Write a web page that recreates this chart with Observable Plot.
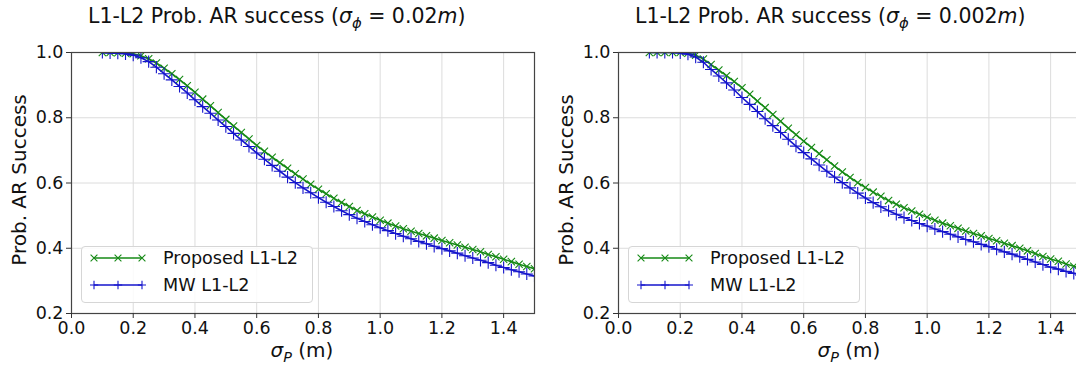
<!DOCTYPE html>
<html>
<head>
<meta charset="utf-8">
<script src="https://cdn.jsdelivr.net/npm/d3@7"></script>
<script src="https://cdn.jsdelivr.net/npm/@observablehq/plot@0.6"></script>
<style>
  html, body { margin: 0; padding: 0; background: #fff; }
  #wrap { position: relative; width: 1076px; height: 368px; overflow: hidden; background: #fff;
          font-family: "DejaVu Sans", sans-serif; color: #111; }
  .abs { position: absolute; white-space: nowrap; }
  .title { font-size: 20.5px; }
  .ylab { font-size: 20px; transform: translate(-50%, -50%) rotate(-90deg); }
  .xlab { font-size: 20px; transform: translateX(-50%); }
  sub { font-size: 72%; vertical-align: -0.35em; line-height: 0; }
  .legend { border: 1px solid #d6d6d6; border-radius: 4px; background: rgba(255,255,255,0.85);
            font-size: 17.6px; box-sizing: border-box; }
  .legend .row { position: absolute; left: 8px; display: flex; align-items: center; }
  .legend svg { margin-right: 17px; }
</style>
</head>
<body>
<div id="wrap"></div>
<script>
// ---- data ----
const sigmaP = [0.100,0.125,0.150,0.175,0.200,0.225,0.250,0.275,0.300,0.325,0.350,0.375,0.400,0.425,0.450,0.475,
  0.500,0.525,0.550,0.575,0.600,0.625,0.650,0.675,0.700,0.725,0.750,0.775,0.800,0.825,0.850,0.875,0.900,0.925,
  0.950,0.975,1.000,1.025,1.050,1.075,1.100,1.125,1.150,1.175,1.200,1.225,1.250,1.275,1.300,1.325,1.350,1.375,
  1.400,1.425,1.450,1.475,1.500];

// sigma_phi = 0.02 m
const proposed002 = [1.000,1.000,0.999,0.998,0.996,0.990,0.981,0.968,0.952,0.935,0.917,0.898,0.878,0.857,0.837,0.816,
  0.795,0.775,0.755,0.735,0.715,0.697,0.679,0.662,0.645,0.628,0.612,0.596,0.581,0.567,0.553,0.540,0.528,0.516,
  0.506,0.496,0.486,0.477,0.468,0.460,0.452,0.445,0.438,0.431,0.424,0.417,0.410,0.403,0.396,0.389,0.381,0.374,
  0.366,0.359,0.351,0.344,0.337];
const mw002 = [1.000,0.999,0.998,0.996,0.992,0.984,0.972,0.955,0.935,0.916,0.896,0.876,0.855,0.834,0.814,0.793,
  0.773,0.752,0.732,0.712,0.692,0.673,0.654,0.636,0.618,0.601,0.585,0.570,0.555,0.541,0.528,0.515,0.503,0.492,
  0.482,0.472,0.463,0.454,0.445,0.437,0.429,0.421,0.414,0.406,0.399,0.392,0.385,0.377,0.370,0.363,0.356,0.348,
  0.341,0.334,0.328,0.321,0.315];

// sigma_phi = 0.002 m
const proposed0002 = [1.000,1.000,1.000,1.000,1.000,0.998,0.992,0.980,0.963,0.946,0.929,0.911,0.892,0.872,0.851,0.831,
  0.810,0.789,0.768,0.748,0.728,0.709,0.690,0.671,0.652,0.634,0.617,0.601,0.586,0.572,0.559,0.546,0.535,0.524,
  0.514,0.504,0.495,0.486,0.477,0.469,0.461,0.453,0.445,0.438,0.430,0.423,0.415,0.408,0.400,0.392,0.384,0.375,
  0.367,0.360,0.352,0.345,0.338];
const mw0002 = [1.000,1.000,1.000,1.000,0.999,0.995,0.986,0.970,0.948,0.928,0.907,0.885,0.862,0.841,0.819,0.797,
  0.776,0.755,0.734,0.713,0.693,0.674,0.655,0.636,0.618,0.601,0.585,0.569,0.554,0.540,0.527,0.515,0.504,0.494,
  0.485,0.476,0.468,0.459,0.451,0.443,0.435,0.427,0.420,0.412,0.405,0.397,0.389,0.382,0.374,0.366,0.358,0.350,
  0.342,0.336,0.329,0.323,0.317];

const xTicks = [0.0, 0.2, 0.4, 0.6, 0.8, 1.0, 1.2, 1.4];
const yTicks = [0.2, 0.4, 0.6, 0.8, 1.0];
const seriesNames = ["Proposed L1-L2", "MW L1-L2"];
const panelTitles = ["0.02", "0.002"];
const GREEN = "#168a16", BLUE = "#1515cc";

const wrap = document.getElementById("wrap");

function panel(left, propVals, mwVals, titleVal) {
  const prop = sigmaP.map((s, i) => ({ s, p: propVals[i] }));
  const mw = sigmaP.map((s, i) => ({ s, p: mwVals[i] }));
  const fmt = d => d.toFixed(1);
  const chart = Plot.plot({
    width: 545, height: 345,
    marginLeft: 71, marginRight: 11, marginTop: 52, marginBottom: 32,
    x: { domain: [0, 1.5] },
    y: { domain: [0.2, 1.0] },
    style: { fontFamily: "DejaVu Sans", fontSize: "17px", color: "#111", background: "transparent", overflow: "visible" },
    marks: [
      Plot.gridX(xTicks, { stroke: "#dcdcdc", strokeOpacity: 1, strokeWidth: 1 }),
      Plot.gridY(yTicks, { stroke: "#dcdcdc", strokeOpacity: 1, strokeWidth: 1 }),
      Plot.line(prop, { x: "s", y: "p", stroke: GREEN, strokeWidth: 1.6, clip: true }),
      Plot.dot(prop, { x: "s", y: "p", symbol: "times", r: 3.4, stroke: GREEN, strokeWidth: 1.1, clip: true }),
      Plot.line(mw, { x: "s", y: "p", stroke: BLUE, strokeWidth: 1.6, clip: true }),
      Plot.dot(mw, { x: "s", y: "p", symbol: "plus", r: 4, stroke: BLUE, strokeWidth: 1.1, clip: true }),
      Plot.frame({ stroke: "#444", strokeWidth: 1.2 }),
      Plot.axisX(xTicks, { tickSize: 5, tickPadding: 3, tickFormat: fmt, fontSize: 17.5, label: null, stroke: "#333" }),
      Plot.axisY(yTicks, { tickSize: 5, tickPadding: 3, tickFormat: fmt, fontSize: 17.5, label: null, stroke: "#333" })
    ]
  });
  chart.style.position = "absolute";
  chart.style.left = left + "px";
  chart.style.top = "0px";
  wrap.appendChild(chart);

  const t = document.createElement("div");
  t.className = "abs title";
  t.style.left = (left + 88) + "px";
  t.style.top = "4px";
  t.innerHTML = `L1-L2 Prob. AR success (<i>σ</i><sub><i>ϕ</i></sub> = ${titleVal}<i>m</i>)`;
  wrap.appendChild(t);

  const yl = document.createElement("div");
  yl.className = "abs ylab";
  yl.style.left = (left + 19) + "px";
  yl.style.top = "180px";
  yl.textContent = "Prob. AR Success";
  wrap.appendChild(yl);

  const xl = document.createElement("div");
  xl.className = "abs xlab";
  xl.style.left = (left + 302) + "px";
  xl.style.top = "338px";
  xl.innerHTML = `<i>σ</i><sub><i>P</i></sub> (m)`;
  wrap.appendChild(xl);

  const lg = document.createElement("div");
  lg.className = "abs legend";
  lg.style.left = (left + 81) + "px";
  lg.style.top = "246px";
  lg.style.width = "232px";
  lg.style.height = "57px";
  const sw = (col, sym) => {
    const mk = x => sym === "times"
      ? `<path d="M${x-3.4},6.6L${x+3.4},13.4M${x-3.4},13.4L${x+3.4},6.6" stroke="${col}" stroke-width="1.1"/>`
      : `<path d="M${x-4.2},10H${x+4.2}M${x},5.8V14.2" stroke="${col}" stroke-width="1.1"/>`;
    return `<svg width="56" height="20"><line x1="4" x2="52" y1="10" y2="10" stroke="${col}" stroke-width="1.6"/>${mk(4)}${mk(28)}${mk(52)}</svg>`;
  };
  lg.innerHTML =
    `<div class="row" style="top:1px">${sw(GREEN, "times")}<span>${seriesNames[0]}</span></div>` +
    `<div class="row" style="top:28px">${sw(BLUE, "plus")}<span>${seriesNames[1]}</span></div>`;
  wrap.appendChild(lg);
}

panel(0, proposed002, mw002, panelTitles[0]);
panel(547, proposed0002, mw0002, panelTitles[1]);
</script>
</body>
</html>
